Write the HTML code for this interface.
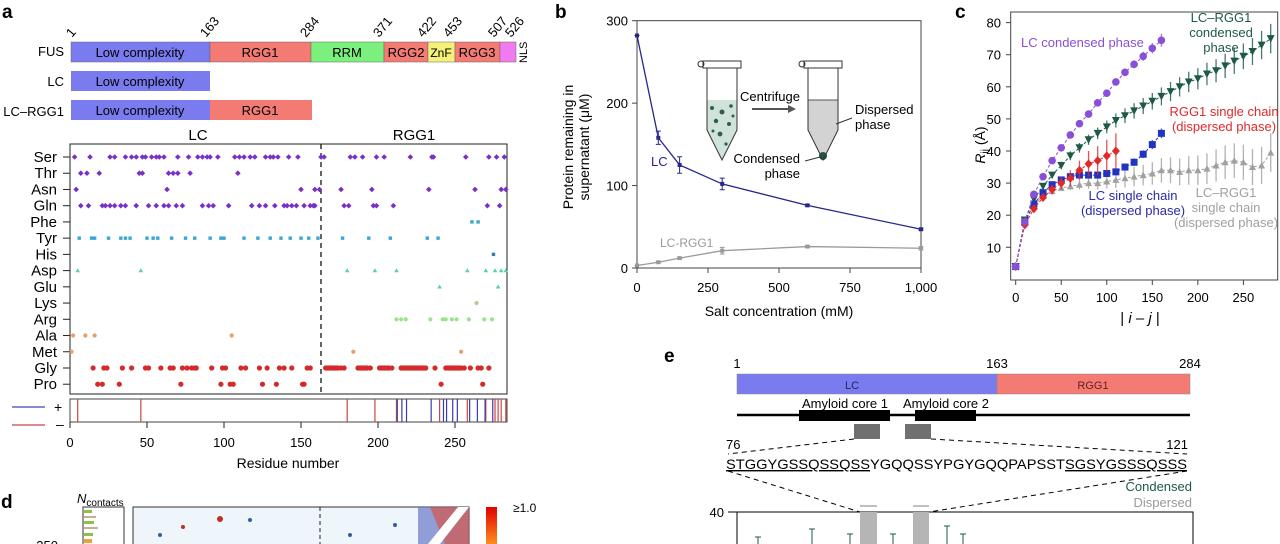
<!DOCTYPE html>
<html><head><meta charset="utf-8"><style>
html,body{margin:0;padding:0;background:#fff;}
svg{display:block;font-family:"Liberation Sans",sans-serif;}
</style></head><body>
<svg id="fig" width="1280" height="544" viewBox="0 0 1280 544" xmlns="http://www.w3.org/2000/svg">
<!-- Panel a -->
<g>
<text x="2" y="18" font-size="19" font-weight="bold">a</text>
<g font-size="13">
<text transform="translate(72,38) rotate(-50)">1</text>
<text transform="translate(206,38) rotate(-50)">163</text>
<text transform="translate(306,38) rotate(-50)">284</text>
<text transform="translate(379,38) rotate(-50)">371</text>
<text transform="translate(423,38) rotate(-50)">422</text>
<text transform="translate(449,38) rotate(-50)">453</text>
<text transform="translate(494,38) rotate(-50)">507</text>
<text transform="translate(511,38) rotate(-50)">526</text>
</g>
<g font-size="13">
<text x="64" y="56" text-anchor="end">FUS</text>
<rect x="71" y="42" width="139" height="20" fill="#7b7bf0" stroke="#666" stroke-width="0.5"/>
<rect x="210" y="42" width="101" height="20" fill="#f47a74" stroke="#666" stroke-width="0.5"/>
<rect x="311" y="42" width="73" height="20" fill="#7cf07c" stroke="#666" stroke-width="0.5"/>
<rect x="384" y="42" width="44" height="20" fill="#f47a74" stroke="#666" stroke-width="0.5"/>
<rect x="428" y="42" width="27" height="20" fill="#f5f07a" stroke="#666" stroke-width="0.5"/>
<rect x="455" y="42" width="45" height="20" fill="#f47a74" stroke="#666" stroke-width="0.5"/>
<rect x="500" y="42" width="16" height="20" fill="#f07af0" stroke="#666" stroke-width="0.5"/>
<text x="140" y="57" text-anchor="middle">Low complexity</text>
<text x="260" y="57" text-anchor="middle">RGG1</text>
<text x="347" y="57" text-anchor="middle">RRM</text>
<text x="406" y="57" text-anchor="middle">RGG2</text>
<text x="441" y="57" text-anchor="middle" font-size="12">ZnF</text>
<text x="477" y="57" text-anchor="middle">RGG3</text>
<text transform="translate(527,63) rotate(-90)" font-size="11">NLS</text>
<text x="64" y="86" text-anchor="end">LC</text>
<rect x="71" y="71" width="139" height="20" fill="#7b7bf0"/>
<text x="140" y="86" text-anchor="middle">Low complexity</text>
<text x="64" y="116" text-anchor="end">LC–RGG1</text>
<rect x="71" y="100" width="139" height="20" fill="#7b7bf0"/>
<rect x="210" y="100" width="102" height="20" fill="#f47a74"/>
<text x="140" y="115" text-anchor="middle">Low complexity</text>
<text x="260" y="115" text-anchor="middle">RGG1</text>
</g>
<text x="198" y="140" font-size="15" text-anchor="middle">LC</text>
<text x="414" y="140" font-size="15" text-anchor="middle">RGG1</text>
<rect x="70" y="144" width="437" height="250" fill="none" stroke="#222" stroke-width="1"/>
<line x1="321" y1="144" x2="321" y2="394" stroke="#111" stroke-dasharray="5,4" stroke-width="1.3"/>
<g id="seqdots"></g>
<g id="seqlabels" font-size="15"></g>
<rect x="70" y="399" width="437" height="23" fill="none" stroke="#444" stroke-width="1"/>
<g id="charges"></g>
<line x1="12" y1="407" x2="45" y2="407" stroke="#4444bb" stroke-width="1.3"/>
<text x="54" y="412" font-size="14">+</text>
<line x1="12" y1="425" x2="45" y2="425" stroke="#cc4444" stroke-width="1.3"/>
<text x="56" y="429" font-size="14">–</text>
<g id="aticks" font-size="13"></g>
<text x="288" y="468" font-size="14" text-anchor="middle">Residue number</text>
</g>

<!-- Panel d -->
<g>
<text x="1" y="508" font-size="19" font-weight="bold">d</text>
<text x="77" y="503" font-size="13" font-style="italic">N<tspan font-size="10" font-style="normal" dy="3">contacts</tspan></text>
<rect x="83" y="507" width="41" height="40" fill="none" stroke="#333"/>
<rect x="84" y="510" width="8" height="3" fill="#8bc34a"/>
<rect x="84" y="516" width="12" height="2" fill="#c9b08a"/>
<rect x="84" y="521" width="10" height="3" fill="#8bc34a"/>
<rect x="84" y="527" width="14" height="2" fill="#c9b08a"/>
<rect x="84" y="533" width="9" height="3" fill="#8bc34a"/>
<rect x="84" y="539" width="8" height="4" fill="#f0a030"/>
<text x="58" y="550" font-size="13" text-anchor="end">250</text>
<rect x="133" y="507" width="336" height="40" fill="#eef5fb" stroke="#333"/>
<polygon points="418,507 469,507 469,544 418,544" fill="#6a78c8" opacity="0.7"/>
<polygon points="430,507 469,507 469,544 445,544" fill="#e04a30" opacity="0.6"/>
<polygon points="458,507 469,507 440,544 428,544" fill="#fff"/>
<line x1="320" y1="507" x2="320" y2="544" stroke="#222" stroke-dasharray="4,3"/>
<circle cx="220" cy="519" r="3" fill="#c03020"/>
<circle cx="183" cy="527" r="2" fill="#c03020"/>
<circle cx="250" cy="520" r="2" fill="#3060a0"/>
<circle cx="395" cy="525" r="2" fill="#3060a0"/>
<circle cx="160" cy="535" r="2" fill="#3060a0"/>
<circle cx="350" cy="535" r="2" fill="#3060a0"/>
<defs><linearGradient id="cb" x1="0" y1="0" x2="0" y2="1"><stop offset="0" stop-color="#e00000"/><stop offset="1" stop-color="#ff9a20"/></linearGradient></defs>
<rect x="486" y="507" width="11" height="40" fill="url(#cb)"/>
<text x="513" y="512" font-size="12">≥1.0</text>
</g>

<!-- Panel b -->
<g>
<text x="555" y="18" font-size="19" font-weight="bold">b</text>
<rect x="637" y="20.7" width="284" height="247.3" fill="none" stroke="#444"/>
<g id="baxes" font-size="13"></g>
<text transform="translate(573,147) rotate(-90)" font-size="14" text-anchor="middle">Protein remaining in</text>
<text transform="translate(589,147) rotate(-90)" font-size="14" text-anchor="middle">supernatant (μM)</text>
<text x="779" y="316" font-size="14" text-anchor="middle">Salt concentration (mM)</text>
<g>
<path d="M707,100 L737,100 L737,130 L722,160 L707,130 Z" fill="#cfe3da"/>
<circle cx="712" cy="108" r="2" fill="#2f5e4c"/><circle cx="722" cy="112" r="2.5" fill="#2f5e4c"/><circle cx="731" cy="106" r="1.8" fill="#2f5e4c"/><circle cx="716" cy="121" r="2.2" fill="#2f5e4c"/><circle cx="729" cy="124" r="2" fill="#2f5e4c"/><circle cx="720" cy="134" r="2.4" fill="#2f5e4c"/><circle cx="726" cy="144" r="1.6" fill="#2f5e4c"/><circle cx="713" cy="131" r="1.5" fill="#2f5e4c"/><circle cx="733" cy="116" r="1.5" fill="#2f5e4c"/>
<path d="M707,68 L707,130 L722,160 L737,130 L737,68" fill="none" stroke="#333" stroke-width="1"/>
<rect x="703" y="61" width="38" height="7" fill="#fff" stroke="#333"/>
<circle cx="701" cy="64" r="3" fill="none" stroke="#333"/>
</g>
<text x="740" y="101" font-size="13">Centrifuge</text>
<line x1="752" y1="109" x2="790" y2="109" stroke="#555" stroke-width="2"/>
<polygon points="796,109 788,105 788,113" fill="#555"/>
<g>
<path d="M808,100 L838,100 L838,130 L823,160 L808,130 Z" fill="#d3d3d3"/>
<circle cx="823" cy="156" r="4" fill="#1e5a40"/>
<line x1="808" y1="100" x2="838" y2="100" stroke="#555"/>
<path d="M808,68 L808,130 L823,160 L838,130 L838,68" fill="none" stroke="#333"/>
<rect x="804" y="61" width="38" height="7" fill="#fff" stroke="#333"/>
<circle cx="802" cy="64" r="3" fill="none" stroke="#333"/>
</g>
<text x="855" y="114" font-size="13">Dispersed</text>
<text x="855" y="129" font-size="13">phase</text>
<line x1="836" y1="124" x2="852" y2="118" stroke="#333"/>
<text x="800" y="163" font-size="13" text-anchor="end">Condensed</text>
<text x="800" y="178" font-size="13" text-anchor="end">phase</text>
<line x1="805" y1="161" x2="820" y2="157" stroke="#333"/>
<g id="bseries"></g>
<text x="651" y="166" font-size="13" fill="#26268c">LC</text>
<text x="660" y="247" font-size="12" fill="#999">LC-RGG1</text>
</g>

<!-- Panel c -->
<g>
<text x="955" y="18" font-size="19" font-weight="bold">c</text>
<rect x="1010.7" y="12" width="267" height="268" fill="none" stroke="#444"/>
<g id="caxes" font-size="13"></g>
<text transform="translate(985,145) rotate(-90)" font-size="14" text-anchor="middle"><tspan font-style="italic">R</tspan><tspan font-size="10" dy="3">ij</tspan><tspan dy="-3"> (Å)</tspan></text>
<text x="1140" y="323" font-size="15" text-anchor="middle">| <tspan font-style="italic">i</tspan> – <tspan font-style="italic">j</tspan> |</text>
<g id="cseries"></g>
<g font-size="13">
<text x="1021" y="47" fill="#8a4fd8">LC condensed phase</text>
<text x="1221" y="22" fill="#1d5a45" text-anchor="middle">LC–RGG1</text>
<text x="1221" y="37" fill="#1d5a45" text-anchor="middle">condensed</text>
<text x="1221" y="52" fill="#1d5a45" text-anchor="middle">phase</text>
<text x="1224" y="116" fill="#e02a2a" text-anchor="middle">RGG1 single chain</text>
<text x="1224" y="131" fill="#e02a2a" text-anchor="middle">(dispersed phase)</text>
<text x="1133" y="200" fill="#2a2aa8" text-anchor="middle">LC single chain</text>
<text x="1133" y="215" fill="#2a2aa8" text-anchor="middle">(dispersed phase)</text>
<text x="1226" y="197" fill="#a0a0a0" text-anchor="middle">LC–RGG1</text>
<text x="1226" y="212" fill="#a0a0a0" text-anchor="middle">single chain</text>
<text x="1226" y="227" fill="#a0a0a0" text-anchor="middle">(dispersed phase)</text>
</g>
</g>

<!-- Panel e -->
<g>
<text x="664" y="362" font-size="19" font-weight="bold">e</text>
<text x="737" y="368" font-size="13" text-anchor="middle">1</text>
<text x="997" y="368" font-size="13" text-anchor="middle">163</text>
<text x="1190" y="368" font-size="13" text-anchor="middle">284</text>
<rect x="737" y="374" width="260" height="20" fill="#7b7bf0" stroke="#888" stroke-width="0.5"/>
<rect x="997" y="374" width="193" height="20" fill="#f47a74" stroke="#888" stroke-width="0.5"/>
<text x="852" y="389" font-size="11" fill="#222266" text-anchor="middle">LC</text>
<text x="1093" y="389" font-size="11" fill="#662222" text-anchor="middle">RGG1</text>
<text x="845" y="408" font-size="13" text-anchor="middle">Amyloid core 1</text>
<text x="946" y="408" font-size="13" text-anchor="middle">Amyloid core 2</text>
<line x1="737" y1="415" x2="1190" y2="415" stroke="#000" stroke-width="2.5"/>
<rect x="799" y="410" width="91" height="11" fill="#000"/>
<rect x="915" y="410" width="61" height="11" fill="#000"/>
<rect x="854" y="424" width="26" height="15" fill="#707070"/>
<rect x="905" y="424" width="26" height="15" fill="#707070"/>
<line x1="854" y1="439" x2="728" y2="454" stroke="#000" stroke-dasharray="5,4"/>
<line x1="931" y1="439" x2="1187" y2="454" stroke="#000" stroke-dasharray="5,4"/>
<text x="726" y="449" font-size="13">76</text>
<text x="1188" y="449" font-size="13" text-anchor="end">121</text>
<text x="726" y="469" font-size="14" textLength="461" lengthAdjust="spacingAndGlyphs"><tspan text-decoration="underline">STGGYGSSQSSQSS</tspan>YGQQSSYPGYGQQPAPSST<tspan text-decoration="underline">SGSYGSSSQSSS</tspan></text>
<line x1="728" y1="471" x2="860" y2="512" stroke="#000" stroke-dasharray="5,4"/>
<line x1="1187" y1="471" x2="929" y2="512" stroke="#000" stroke-dasharray="5,4"/>
<text x="1192" y="491" font-size="13" fill="#1d5a45" text-anchor="end">Condensed</text>
<text x="1192" y="507" font-size="13" fill="#999" text-anchor="end">Dispersed</text>
<text x="724" y="517" font-size="13" text-anchor="end">40</text>
<line x1="728" y1="512" x2="737" y2="512" stroke="#000"/>
<rect x="737" y="512" width="456" height="40" fill="none" stroke="#000"/>
<rect x="860" y="512" width="17" height="40" fill="#b5b5b5"/>
<rect x="913" y="512" width="16" height="40" fill="#b5b5b5"/>
<line x1="860" y1="506" x2="877" y2="506" stroke="#aaa" stroke-width="1.5"/>
<line x1="913" y1="506" x2="929" y2="506" stroke="#aaa" stroke-width="1.5"/>
<g stroke="#1d5a45" stroke-width="1">
<path d="M758,537 v8 M755,537 h6 M812,529 v16 M809,529 h6 M850,534 v10 M847,534 h6 M893,534 v10 M890,534 h6 M947,526 v18 M944,526 h6 M963,534 v10 M960,534 h6"/>
</g>
</g>
</svg>
<script>
// ---------- Panel a data ----------
const aaNames = ["Ser","Thr","Asn","Gln","Phe","Tyr","His","Asp","Glu","Lys","Arg","Ala","Met","Gly","Pro"];
const aaColors = ["#7a2fc8","#7a2fc8","#7a2fc8","#7a2fc8","#3aa6d6","#3aa6d6","#2f7fb0","#55d0b0","#55d0b0","#c8c090","#9be38a","#e3a070","#e3a070","#d42a2a","#d42a2a"];
const serPos = [3,13,26,29,36,40,43,47,49,53,56,58,61,70,77,83,86,89,91,96,107,110,113,117,120,127,130,132,135,142,148,163,165,182,185,190,199,204,221,235,236,257,272,277,282];
const thrPos = [7,11,19,45,47,64,67,70,78,109];
const asnPos = [4,63,150,159,162,176,196,233,263,280,283];
const glnPos = [7,12,21,23,26,29,33,36,43,51,56,61,64,69,73,86,90,93,103,118,123,127,133,139,141,144,147,152,156,158,159,178,181,197,199,210,271,279];
const phePos = [261,265];
const tyrPos = [6,14,16,25,33,36,39,50,54,57,66,75,81,91,98,100,113,122,130,137,143,150,155,161,177,194,208,232,239];
const hisPos = [275];
const aspPos = [5,46,180,198,212,258,270,276,280,283];
const gluPos = [240,278];
const lysPos = [264];
const argPos = [212,215,218,234,242,244,248,251,259,269,274];
const alaPos = [2,10,16,105];
const metPos = [1,184,254];
const glyPos = [15,22,24,34,40,49,51,59,65,67,73,76,79,81,82,92,99,101,111,114,123,128,136,139,144,154,156,166,167,168,169,170,171,172,173,174,176,178,187,188,189,190,191,192,193,195,201,202,203,204,205,206,207,209,215,216,217,218,219,220,221,222,223,224,225,226,227,228,229,230,231,237,244,245,246,247,248,249,250,251,252,253,254,256,260,265,267,272];
const proPos = [18,21,32,72,98,104,106,125,134,151,152,241,268];
const residueTicks = [0,50,100,150,200,250];

// ---------- Panel b data ----------
const saltConc = [0,75,150,300,600,1000];
const lcRemaining = [282,158,125,102,76,47];
const lcErr = [0,8,10,7,1,1];
const lcRggRemaining = [3,7,12,21,26,24];
const lcRggErr = [0,1,1,4,1,2];
const bXTicks = [0,250,500,750,1000];
const bXTickLabels = ["0","250","500","750","1,000"];
const bYTicks = [0,100,200,300];

// ---------- Panel c data ----------
const sepLC = [0,10,20,30,40,50,60,70,80,90,100,110,120,130,140,150,160];
const sepRGG = [0,10,20,30,40,50,60,70,80,90,100,110];
const sepLCRGG = [0,10,20,30,40,50,60,70,80,90,100,110,120,130,140,150,160,170,180,190,200,210,220,230,240,250,260,270,280];
const lcCondensed = [4,18,26.5,32,37,41,45,48.5,51.5,55,58,61.5,64.5,67,69.5,72,74.5];
const lcCondensedErr = [0.5,0.5,0.8,0.8,0.8,0.8,0.8,0.8,0.8,0.8,1,1,1.2,1.2,1.4,1.6,2];
const lcRggCondensed = [4,18.5,25,29,32.5,35.5,38.5,41,43.5,45.5,47.5,49.5,51,52.5,54,55.5,57,58.5,60,61.5,62.5,64,65,66.5,68,69.5,71,73,75];
const lcRggCondensedErr = [0.5,0.5,0.8,1,1,1.2,1.4,1.5,1.6,1.8,2,2.2,2.3,2.4,2.5,2.6,2.8,3,3,3.2,3.3,3.5,3.6,3.8,4,4,4.2,4.4,4.6];
const rggSingle = [4,17,22,25.5,28,30,31.5,34,36,37,38.5,40];
const rggSingleErr = [0.5,0.8,1,1.2,1.5,2,2.5,3,4,4.5,5,5.5];
const lcSingle = [4,18,23.5,27,29.5,31,32,32.5,32.5,32.5,33,33.5,35,36.5,39,42,45.5];
const lcSingleErr = [0.5,0.6,0.8,0.8,0.8,0.8,0.8,0.8,0.8,0.8,0.8,1,1,1.2,1.2,1.4,1.5];
const lcRggSingle = [4,18,23,26,27.5,28.5,29,29.5,30,30,30.5,31,31.5,32,32.5,33,34,34,33.5,34,34,34.5,35.5,36.5,37,36.5,35,35.5,39.5];
const lcRggSingleErr = [0.5,0.6,0.8,1,1,1,1.2,1.5,1.8,2,2.2,2.5,2.8,3,3.2,3.5,3.8,4,4.2,4.5,4.6,4.8,5,5.2,5.4,5.5,5.6,5.8,6];
const cXTicks = [0,50,100,150,200,250];
const cYTicks = [10,20,30,40,50,60,70,80];

const NS = "http://www.w3.org/2000/svg";
function mk(tag, attrs, parent){const e=document.createElementNS(NS,tag);for(const k in attrs)e.setAttribute(k,attrs[k]);parent.appendChild(e);return e;}

// ---- Panel a ----
const ax = r => 70 + r*1.54;
const rowY = i => 157 + i*16.23;
const aaPositions = [serPos,thrPos,asnPos,glnPos,phePos,tyrPos,hisPos,aspPos,gluPos,lysPos,argPos,alaPos,metPos,glyPos,proPos];
const dotsG = document.getElementById('seqdots');
const labG = document.getElementById('seqlabels');
aaNames.forEach((nm,i)=>{
  const y = rowY(i);
  const t = mk('text',{x:57,y:y+5,'text-anchor':'end'},labG);
  t.textContent = nm;
  
  
  const tk = mk('line',{x1:63,y1:y,x2:70,y2:y,stroke:'#222'},labG);
  
  
  aaPositions[i].forEach(p=>{
    let d;
    const x = ax(p), c = aaColors[i];
    if (i===4||i===5||i===6) d = mk('rect',{x:x-1.7,y:y-1.7,width:3.4,height:3.4,fill:c},dotsG);
    else if (i===7||i===8) d = mk('polygon',{points:`${x},${y-2.3} ${x-2.3},${y+1.7} ${x+2.3},${y+1.7}`,fill:c},dotsG);
    else if (i<4) d = mk('polygon',{points:`${x},${y-2.8} ${x+2.8},${y} ${x},${y+2.8} ${x-2.8},${y}`,fill:c},dotsG);
    else d = mk('circle',{cx:x,cy:y,r:(i>=13?2.6:2.1),fill:c},dotsG);
    
    
  });
});
const chG = document.getElementById('charges');
[aspPos,gluPos].forEach(arr=>arr.forEach(p=>{
  const l = mk('line',{x1:ax(p),y1:399,x2:ax(p),y2:422,stroke:'#cc4444','stroke-width':1.2},chG);
  
  
}));
[argPos,lysPos].forEach(arr=>arr.forEach(p=>{
  const l = mk('line',{x1:ax(p)+0.8,y1:399,x2:ax(p)+0.8,y2:422,stroke:'#3a3aaa','stroke-width':1.2},chG);
  
  
}));
const atG = document.getElementById('aticks');
residueTicks.forEach(v=>{
  const l = mk('line',{x1:ax(v),y1:422,x2:ax(v),y2:428,stroke:'#222'},atG);
  
  
  const t = mk('text',{x:ax(v),y:447,'text-anchor':'middle'},atG);
  t.textContent = v;
  
  
});

// ---- Panel b ----
const bx = v => 637 + v*0.284;
const by = v => 268 - v*(247.3/300);
const baG = document.getElementById('baxes');
bXTicks.forEach((v,i)=>{
  const l = mk('line',{x1:bx(v),y1:268,x2:bx(v),y2:273,stroke:'#444'},baG);
  
  
  const t = mk('text',{x:bx(v),y:292,'text-anchor':'middle'},baG);
  t.textContent = bXTickLabels[i];
  
  
});
bYTicks.forEach(v=>{
  const l = mk('line',{x1:632,y1:by(v),x2:637,y2:by(v),stroke:'#444'},baG);
  
  
  const t = mk('text',{x:628,y:by(v)+5,'text-anchor':'end'},baG);
  t.textContent = v;
  
  
});
const bsG = document.getElementById('bseries');
function bSeries(vals, errs, color, name){
  const pl = mk('polyline',{points:saltConc.map((c,i)=>bx(c)+','+by(vals[i])).join(' '),fill:'none',stroke:color,'stroke-width':1.3},bsG);
  
  
  saltConc.forEach((c,i)=>{
    const e = mk('path',{d:`M${bx(c)},${by(vals[i]-errs[i])}V${by(vals[i]+errs[i])}M${bx(c)-2.5},${by(vals[i]-errs[i])}h5M${bx(c)-2.5},${by(vals[i]+errs[i])}h5`,stroke:color,fill:'none'},bsG);
    
    
    const m = mk('rect',{x:bx(c)-2,y:by(vals[i])-2,width:4,height:4,fill:color},bsG);
    
    
  });
}
bSeries(lcRemaining, lcErr, '#26268c', 'lc');
bSeries(lcRggRemaining, lcRggErr, '#999', 'lcrgg1');

// ---- Panel c ----
const cx = v => 1015.7 + v*0.9107;
const cy = v => 279.4 - v*3.21;
const caG = document.getElementById('caxes');
cXTicks.forEach(v=>{
  const l = mk('line',{x1:cx(v),y1:280,x2:cx(v),y2:285,stroke:'#444'},caG);
  
  
  const t = mk('text',{x:cx(v),y:302,'text-anchor':'middle'},caG);
  t.textContent = v;
  
  
});
cYTicks.forEach(v=>{
  const l = mk('line',{x1:1006,y1:cy(v),x2:1010.7,y2:cy(v),stroke:'#444'},caG);
  
  
  const t = mk('text',{x:1001,y:cy(v)+5,'text-anchor':'end'},caG);
  t.textContent = v;
  
  
});
const csG = document.getElementById('cseries');
function cSeries(xs, vals, errs, color, shape, name){
  const pl = mk('polyline',{points:xs.map((x,i)=>cx(x)+','+cy(vals[i])).join(' '),fill:'none',stroke:color,'stroke-width':1,'stroke-dasharray':'3,2'},csG);
  
  
  xs.forEach((x,i)=>{
    const px=cx(x), py=cy(vals[i]);
    const e = mk('line',{x1:px,y1:cy(vals[i]-errs[i]),x2:px,y2:cy(vals[i]+errs[i]),stroke:color,'stroke-width':1.3,opacity:0.8},csG);
    
    
    let m;
    if (shape==='circle') m = mk('circle',{cx:px,cy:py,r:3.8,fill:color},csG);
    else if (shape==='square') m = mk('rect',{x:px-3.5,y:py-3.5,width:7,height:7,fill:color},csG);
    else if (shape==='diamond') m = mk('polygon',{points:`${px},${py-4.5} ${px+4},${py} ${px},${py+4.5} ${px-4},${py}`,fill:color},csG);
    else if (shape==='down') m = mk('polygon',{points:`${px-4},${py-3.5} ${px+4},${py-3.5} ${px},${py+4}`,fill:color},csG);
    else m = mk('polygon',{points:`${px-3.5},${py+3} ${px+3.5},${py+3} ${px},${py-3.5}`,fill:color},csG);
    
    
  });
}
cSeries(sepLCRGG, lcRggSingle, lcRggSingleErr, '#a0a0a0', 'up', 'lcrgg1-single');
cSeries(sepLCRGG, lcRggCondensed, lcRggCondensedErr, '#1d5a45', 'down', 'lcrgg1-condensed');
cSeries(sepLC, lcSingle, lcSingleErr, '#2233c0', 'square', 'lc-single');
cSeries(sepRGG, rggSingle, rggSingleErr, '#e02a2a', 'diamond', 'rgg1-single');
cSeries(sepLC, lcCondensed, lcCondensedErr, '#8a4fd8', 'circle', 'lc-condensed');
</script>
</body></html>
